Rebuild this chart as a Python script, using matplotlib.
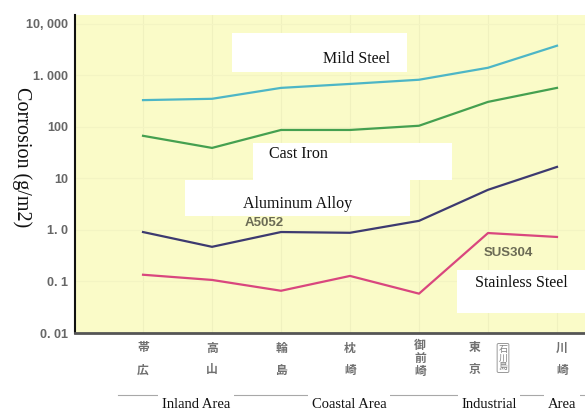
import numpy as np
import matplotlib
matplotlib.use("Agg")
import matplotlib.pyplot as plt
from matplotlib.patches import Rectangle
from matplotlib.lines import Line2D

# canvas size in pixels (dpi 100)
W, H = 585, 412

# atmospheric exposure sites, grouped by environment
sites = ["帯広", "高山", "輪島", "枕崎", "御前崎", "東京", "川崎"]
areas = ["Inland Area", "Coastal Area", "Industrial", "Area"]

# corrosion loss, g/m2 (log scale)
mild_steel = [330, 350, 570, 680, 820, 1400, 3750]
cast_iron = [67, 39, 87, 87, 105, 305, 570]
aluminum = [0.91, 0.47, 0.91, 0.88, 1.5, 6.0, 16.7]
stainless = [0.135, 0.107, 0.066, 0.128, 0.058, 0.87, 0.73]

ytick_vals = [0.01, 0.1, 1, 10, 100, 1000, 10000]
ytick_text = ["0. 01", "0. 1", "1. 0", "10", "100", "1. 000", "10, 000"]


def fx(px):
    return px / W


def fy(py):
    return 1 - py / H


fig = plt.figure(figsize=(W / 100, H / 100), dpi=100)
fig.patch.set_facecolor("white")

ax = fig.add_axes([fx(75), fy(333), fx(585) - fx(75), fy(15) - fy(333)])
ax.set_facecolor("#fafbc8")
ax.set_yscale("log")
ax.set_ylim(0.01, 10 ** 4.17)
ax.set_xlim(-0.986, 6.406)

x = np.arange(len(sites))

# very faint grid in the plotting area
for xi in x:
    ax.axvline(xi, color="#f0f1bf", lw=0.8, zorder=0)
for yv in ytick_vals[1:]:
    ax.axhline(yv, color="#f3f4c3", lw=0.8, zorder=0)

ax.plot(x, mild_steel, color="#4db6c6", lw=1.6, zorder=3)
ax.plot(x, cast_iron, color="#45a050", lw=1.6, zorder=3)
ax.plot(x, aluminum, color="#3d3a70", lw=1.6, zorder=3)
ax.plot(x, stainless, color="#d9467e", lw=1.6, zorder=3)

ax.set_yticks(ytick_vals)
ax.set_yticklabels(ytick_text)
ax.minorticks_off()
ax.tick_params(axis="y", length=0, pad=5, labelsize=9, labelcolor="#666666")
for lab in ax.get_yticklabels():
    lab.set_fontweight("bold")
    lab.set_family("Liberation Sans")
ax.set_xticks([])

for s in ("top", "right"):
    ax.spines[s].set_visible(False)
ax.spines["left"].set_color("#111111")
ax.spines["left"].set_linewidth(1.5)
ax.spines["bottom"].set_color("#555555")
ax.spines["bottom"].set_linewidth(2.0)

# grade designations printed near the lines
ax.text(1.48, 1.37, "A5052", fontsize=9.5, fontweight="bold",
        color="#6b6b55", family="Liberation Sans", va="center", zorder=4)
ax.text(4.94, 0.36, "SUS304", fontsize=9.5, fontweight="bold",
        color="#6b6b55", family="Liberation Sans", va="center", zorder=4)

# white label boxes (pixel rectangles: left, top, right, bottom)
boxes = [
    (232, 33, 407, 72, "Mild Steel", 357, 59, "center"),
    (253, 143, 452, 180, "Cast Iron", 269, 154, "left"),
    (185, 180, 410, 216, "Aluminum Alloy", 298, 204, "center"),
    (457, 270, 585, 313, "Stainless Steel", 521, 283, "center"),
]
for l, t, r, b, txt, tx, ty, ha in boxes:
    fig.add_artist(Rectangle((fx(l), fy(b)), fx(r) - fx(l), fy(t) - fy(b),
                             transform=fig.transFigure, facecolor="white",
                             edgecolor="none", zorder=5))
    fig.text(fx(tx), fy(ty), txt, family="Liberation Serif", fontsize=11.5,
             ha=ha, va="center", color="#111111", zorder=6)

# site names, written vertically under each point
site_x = [143, 212, 281, 350, 420, 475, 562]
jp = dict(family="Noto Sans CJK JP", fontsize=8.5, fontweight="bold",
          color="#707070", ha="center", va="center")
for name, sx in zip(sites, site_x):
    if name == "東京":
        fig.text(fx(sx), fy(348), name[0], **jp)
        fig.text(fx(sx), fy(370), name[1], **jp)
        fig.text(fx(sx + 28), fy(358), "石\n川\n島", family="Noto Sans CJK JP",
                 fontsize=6.5, color="#808080", ha="center", va="center",
                 linespacing=0.95,
                 bbox=dict(boxstyle="round,pad=0.15", fc="none",
                           ec="#9a9a9a", lw=0.7))
    elif len(name) == 3:
        for i, ch in enumerate(name):
            fig.text(fx(sx), fy(345 + 13 * i), ch, **jp)
    else:
        for i, ch in enumerate(name):
            fig.text(fx(sx), fy(348 + 22 * i), ch, **jp)

# separator line above the area captions
fig.add_artist(Line2D([fx(118), fx(585)], [fy(395), fy(395)],
                      transform=fig.transFigure, color="#a8a8a8", lw=0.8))

area_x = [196, 349, 489, 562]
for txt, axx in zip(areas, area_x):
    fig.text(fx(axx), fy(404), txt, family="Liberation Serif", fontsize=10.5,
             ha="center", va="center", color="#111111", zorder=6,
             bbox=dict(boxstyle="square,pad=0.25", fc="white", ec="none"))

fig.text(fx(22), fy(157), "Corrosion (g/m2)", family="Liberation Serif",
         fontsize=14.5, rotation=270, ha="center", va="center",
         color="#111111")

fig.savefig("out.png", dpi=100)
